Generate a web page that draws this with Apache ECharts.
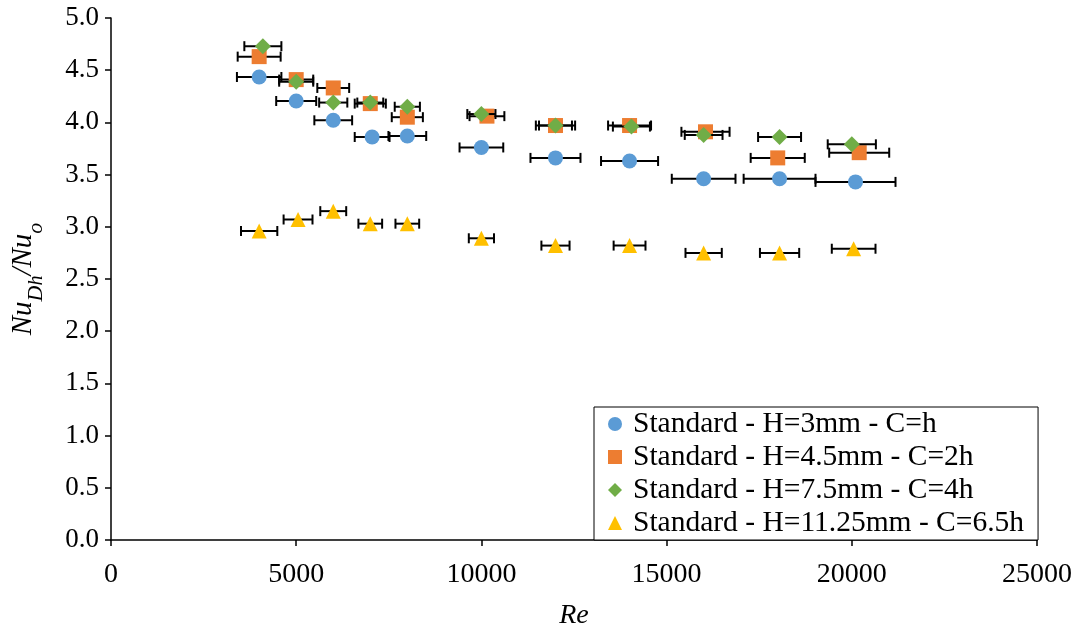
<!DOCTYPE html>
<html>
<head>
<meta charset="utf-8">
<script src="https://cdn.jsdelivr.net/npm/echarts@6/dist/echarts.min.js"></script>
<style>html,body{margin:0;padding:0;background:#fff}#c{width:1080px;height:632px}</style>
</head>
<body>
<div id="c"></div>
<script>
const names = [
  'Standard - H=3mm - C=h',
  'Standard - H=4.5mm - C=2h',
  'Standard - H=7.5mm - C=4h',
  'Standard - H=11.25mm - C=6.5h'
];
const re1 = [4000, 5000, 6000, 7050, 8000, 10000, 12000, 14000, 16000, 18050, 20100];
const nu1 = [4.435, 4.205, 4.02, 3.86, 3.87, 3.76, 3.66, 3.63, 3.46, 3.46, 3.43];
const err1 = [600, 540, 510, 470, 510, 590, 675, 770, 860, 970, 1080];

const re2 = [4000, 5000, 6000, 7000, 8000, 10150, 12000, 14000, 16050, 18000, 20200];
const nu2 = [4.63, 4.41, 4.33, 4.18, 4.05, 4.06, 3.97, 3.97, 3.91, 3.66, 3.71];
const err2 = [580, 460, 430, 420, 420, 470, 530, 580, 650, 730, 810];

const re3 = [4100, 5000, 6000, 7000, 8000, 10000, 12000, 14050, 16000, 18050, 20000];
const nu3 = [4.73, 4.39, 4.19, 4.19, 4.15, 4.08, 3.97, 3.96, 3.88, 3.86, 3.79];
const err3 = [500, 460, 380, 350, 340, 380, 445, 500, 510, 580, 650];

const re4 = [4000, 5050, 6000, 7000, 8000, 10000, 12000, 14000, 16000, 18050, 20050];
const nu4 = [2.96, 3.07, 3.15, 3.03, 3.03, 2.89, 2.82, 2.82, 2.75, 2.75, 2.79];
const err4 = [490, 390, 350, 320, 320, 340, 380, 430, 490, 530, 590];

const colors = ['#5B9BD5', '#ED7D31', '#70AD47', '#FFC000'];
const symbols = ['circle', 'rect', 'diamond', 'triangle'];
const sizes = [15, 15, 16, 15];
const sets = [[re1, nu1, err1], [re2, nu2, err2], [re3, nu3, err3], [re4, nu4, err4]];
const FONT = '"Liberation Serif", "Times New Roman", serif';

function errRender(params, api) {
  const x = api.value(0), y = api.value(1), e = api.value(2);
  const p1 = api.coord([x - e, y]);
  const p2 = api.coord([x + e, y]);
  const cap = 5;
  const st = { stroke: '#000', lineWidth: 2 };
  return {
    type: 'group',
    children: [
      { type: 'line', shape: { x1: p1[0], y1: p1[1], x2: p2[0], y2: p2[1] }, style: st },
      { type: 'line', shape: { x1: p1[0], y1: p1[1] - cap, x2: p1[0], y2: p1[1] + cap }, style: st },
      { type: 'line', shape: { x1: p2[0], y1: p2[1] - cap, x2: p2[0], y2: p2[1] + cap }, style: st }
    ]
  };
}

const series = [];
sets.forEach((s, i) => {
  series.push({
    type: 'custom',
    renderItem: errRender,
    data: s[0].map((x, j) => [x, s[1][j], s[2][j]]),
    encode: { x: 0, y: 1 },
    z: 2 + i * 2,
    silent: true
  });
  series.push({
    name: names[i],
    type: 'scatter',
    symbol: symbols[i],
    symbolSize: sizes[i],
    symbolKeepAspect: true,
    itemStyle: { color: colors[i], opacity: 1 },
    data: s[0].map((x, j) => [x, s[1][j]]),
    z: 3 + i * 2
  });
});

const chart = echarts.init(document.getElementById('c'), null, { renderer: 'canvas' });
chart.setOption({
  animation: false,
  backgroundColor: '#fff',
  grid: { left: 111, right: 43, top: 18, bottom: 92, containLabel: false, outerBoundsMode: 'none' },
  legend: {
    data: names,
    orient: 'vertical',
    left: 594,
    top: 407,
    padding: [2, 14, 2, 14],
    itemGap: 3,
    itemWidth: 14,
    itemHeight: 14,
    backgroundColor: '#fff',
    borderColor: '#000',
    borderWidth: 1,
    borderRadius: 0,
    textStyle: { fontFamily: FONT, fontSize: 29.5, color: '#000', padding: [0, 0, 0, 6] }
  },
  xAxis: {
    type: 'value',
    min: 0, max: 25000, interval: 5000,
    name: 'Re',
    nameLocation: 'middle',
    nameGap: 62,
    nameTextStyle: { fontFamily: FONT, fontStyle: 'italic', fontSize: 28, color: '#000' },
    axisLine: { show: true, onZero: false, lineStyle: { color: '#000', width: 1.5 } },
    axisTick: { show: true, inside: false, length: 6, lineStyle: { color: '#000', width: 1.5 } },
    axisLabel: { fontFamily: FONT, fontSize: 28, color: '#000', margin: 21, formatter: v => String(v) },
    splitLine: { show: false }
  },
  yAxis: {
    type: 'value',
    min: 0, max: 5, interval: 0.5,
    name: '{a|Nu}{b|D}{c|h}{a|/Nu}{b|o}',
    nameLocation: 'middle',
    nameRotate: 90,
    nameGap: 64,
    nameTextStyle: {
      fontFamily: FONT, fontStyle: 'italic', fontSize: 28, color: '#000',
      rich: {
        a: { fontFamily: FONT, fontStyle: 'italic', fontSize: 29, color: '#000', lineHeight: 48 },
        b: { fontFamily: FONT, fontStyle: 'italic', fontSize: 22, color: '#000', lineHeight: 30, verticalAlign: 'bottom' },
        c: { fontFamily: FONT, fontStyle: 'italic', fontSize: 20, color: '#000', lineHeight: 16, verticalAlign: 'bottom' }
      }
    },
    axisLine: { show: true, onZero: false, lineStyle: { color: '#000', width: 1.5 } },
    axisTick: { show: true, inside: false, length: 6, lineStyle: { color: '#000', width: 1.5 } },
    axisLabel: { fontFamily: FONT, fontSize: 27, color: '#000', margin: 12, formatter: v => v.toFixed(1) },
    splitLine: { show: false }
  },
  series: series
});
</script>
</body>
</html>
